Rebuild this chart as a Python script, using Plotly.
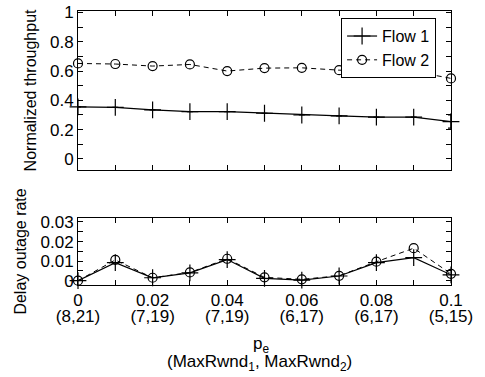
import plotly.graph_objects as go
from plotly.subplots import make_subplots

pe = [0, 0.01, 0.02, 0.03, 0.04, 0.05, 0.06, 0.07, 0.08, 0.09, 0.1]
thr_flow1 = [0.355, 0.352, 0.335, 0.323, 0.323, 0.312, 0.300, 0.294, 0.285, 0.285, 0.255]
thr_flow1_err = [0, 0, 0, 0, 0, 0, 0, 0, 0, 0, 0.045]
thr_flow2 = [0.652, 0.648, 0.634, 0.645, 0.600, 0.620, 0.622, 0.606, 0.600, 0.598, 0.550]
out_flow1 = [0.0, 0.0092, 0.0015, 0.004, 0.0108, 0.0012, 0.0003, 0.0024, 0.0092, 0.0118, 0.003]
out_flow2 = [0.0, 0.0106, 0.0015, 0.0042, 0.0112, 0.0017, 0.0007, 0.0025, 0.0097, 0.0166, 0.0035]

x_ticks = [0, 0.01, 0.02, 0.03, 0.04, 0.05, 0.06, 0.07, 0.08, 0.09, 0.1]
x_ticklabels = ["0", "", "0.02", "", "0.04", "", "0.06", "", "0.08", "", "0.1"]
x_ticklabels2 = ["(8,21)", "", "(7,19)", "", "(7,19)", "", "(6,17)", "", "(6,17)", "", "(5,15)"]
y1_ticks = [0, 0.1, 0.2, 0.3, 0.4, 0.5, 0.6, 0.7, 0.8, 0.9, 1.0]
y1_ticklabels = ["0", "", "0.2", "", "0.4", "", "0.6", "", "0.8", "", "1"]
y2_ticks = [0, 0.005, 0.01, 0.015, 0.02, 0.025, 0.03]
y2_ticklabels = ["0", "", "0.01", "", "0.02", "", "0.03"]

FONT = "Liberation Sans, Arial, sans-serif"
DASH = "5px,4px"

fig = make_subplots(rows=2, cols=1)

fig.add_trace(go.Scatter(x=pe, y=thr_flow1, name="Flow 1", mode="lines+markers",
                         line=dict(color="black", width=1.2),
                         marker=dict(symbol="cross-thin", size=12, line=dict(color="black", width=1.2)),
                         error_y=dict(type="data", array=thr_flow1_err, color="black", thickness=1.2, width=3),
                         cliponaxis=False), row=1, col=1)
fig.add_trace(go.Scatter(x=pe, y=thr_flow2, name="Flow 2", mode="lines+markers",
                         line=dict(color="black", width=1, dash=DASH),
                         marker=dict(symbol="circle-open", size=9, color="black", line=dict(width=1.2)),
                         cliponaxis=False), row=1, col=1)
fig.add_trace(go.Scatter(x=pe, y=out_flow1, name="Flow 1", mode="lines+markers", showlegend=False,
                         line=dict(color="black", width=1.2),
                         marker=dict(symbol="cross-thin", size=12, line=dict(color="black", width=1.2)),
                         cliponaxis=False), row=2, col=1)
fig.add_trace(go.Scatter(x=pe, y=out_flow2, name="Flow 2", mode="lines+markers", showlegend=False,
                         line=dict(color="black", width=1, dash=DASH),
                         marker=dict(symbol="circle-open", size=9, color="black", line=dict(width=1.2)),
                         cliponaxis=False), row=2, col=1)
# invisible trace carrying the second row of x tick labels
fig.add_trace(go.Scatter(x=pe, y=out_flow1, xaxis="x3", yaxis="y2", mode="markers",
                         marker=dict(opacity=0), showlegend=False, hoverinfo="skip"))

axis_common = dict(showline=True, linecolor="black", linewidth=1, mirror="ticks",
                   ticks="inside", ticklen=5, tickcolor="black", showgrid=False, zeroline=False,
                   automargin=False, ticklabeloverflow="allow",
                   tickfont=dict(family=FONT, size=17, color="black"))

fig.update_xaxes(**axis_common, range=[0, 0.1], tickmode="array", tickvals=x_ticks)
fig.update_xaxes(ticktext=[""] * len(x_ticks), row=1, col=1)
fig.update_xaxes(ticktext=x_ticklabels, row=2, col=1)
fig.update_yaxes(**axis_common)
fig.update_yaxes(range=[-0.075, 1.01], tickmode="array", tickvals=y1_ticks, ticktext=y1_ticklabels,
                 title=dict(text="Normalized throughput", font=dict(family=FONT, size=16, color="black"), standoff=9),
                 row=1, col=1)
fig.update_yaxes(range=[-0.0022, 0.0321], tickmode="array", tickvals=y2_ticks, ticktext=y2_ticklabels,
                 title=dict(text="Delay outage rate", font=dict(family=FONT, size=16, color="black"), standoff=9),
                 row=2, col=1)

fig.update_layout(
    width=485, height=377,
    margin=dict(l=78, r=34, t=11, b=92),
    paper_bgcolor="white", plot_bgcolor="white",
    font=dict(family=FONT, size=17, color="black"),
    yaxis=dict(domain=[0.42, 1.0]),
    yaxis2=dict(domain=[0.0, 0.245]),
    xaxis3=dict(overlaying="x2", anchor="free", position=0, side="bottom", range=[0, 0.1],
                tickmode="array", tickvals=x_ticks, ticktext=x_ticklabels2,
                showline=False, ticks="", showgrid=False, zeroline=False, automargin=False,
                ticklabeloverflow="allow",
                ticklabelstandoff=19, tickfont=dict(family=FONT, size=17, color="black")),
    showlegend=True,
    legend=dict(x=0.96, y=0.974, xanchor="right", yanchor="top", xref="paper", yref="paper",
                bordercolor="black", borderwidth=1, bgcolor="white",
                font=dict(family=FONT, size=16, color="black"),
                tracegroupgap=0, itemwidth=30),
)

fig.add_annotation(text="p<sub>e</sub>",
                   xref="paper", yref="paper", x=0.49, y=-0.219, xanchor="center", yanchor="middle",
                   showarrow=False, font=dict(family=FONT, size=17, color="black"))
fig.add_annotation(text="(MaxRwnd<sub>1</sub>, MaxRwnd<sub>2</sub>)",
                   xref="paper", yref="paper", x=0.487, y=-0.285, xanchor="center", yanchor="middle",
                   showarrow=False, font=dict(family=FONT, size=17, color="black"))

fig.write_html("out.html", config={"displayModeBar": False},
               post_script="document.body.style.margin='0';document.body.style.overflow='hidden';")
